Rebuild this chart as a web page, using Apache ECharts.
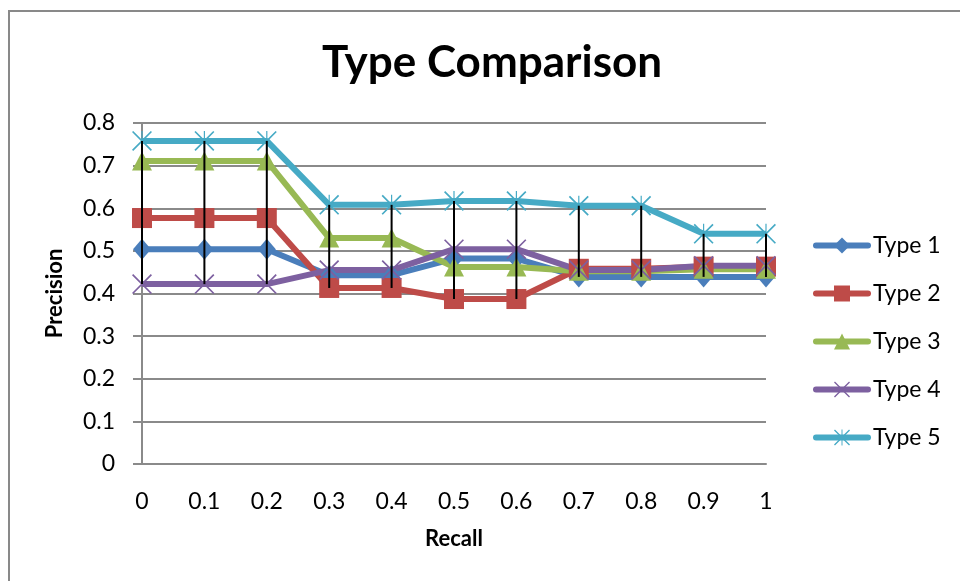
<!DOCTYPE html>
<html>
<head>
<meta charset="utf-8">
<title>Type Comparison</title>
<script src="https://cdn.jsdelivr.net/npm/echarts@6/dist/echarts.min.js"></script>
<style>
  html, body { margin: 0; padding: 0; background: #fff; }
  #chart { width: 960px; height: 581px; }
</style>
</head>
<body>
<div id="chart"></div>
<script>
// values
const recall = ['0', '0.1', '0.2', '0.3', '0.4', '0.5', '0.6', '0.7', '0.8', '0.9', '1'];
const type1 = [0.504, 0.504, 0.504, 0.443, 0.443, 0.482, 0.482, 0.439, 0.439, 0.439, 0.439];
const type2 = [0.577, 0.577, 0.577, 0.413, 0.413, 0.387, 0.387, 0.458, 0.458, 0.463, 0.463];
const type3 = [0.711, 0.711, 0.711, 0.530, 0.530, 0.462, 0.462, 0.452, 0.452, 0.457, 0.457];
const type4 = [0.422, 0.422, 0.422, 0.455, 0.455, 0.504, 0.504, 0.455, 0.455, 0.465, 0.465];
const type5 = [0.758, 0.758, 0.758, 0.608, 0.608, 0.617, 0.617, 0.606, 0.606, 0.540, 0.540];
const seriesNames = ['Type 1', 'Type 2', 'Type 3', 'Type 4', 'Type 5'];

const font = 'Lato';
const colors = ['#4A7EBB', '#BE4B48', '#98B954', '#7D60A0', '#46AAC5'];

// thin X and asterisk markers (filled paths)
const xPath = 'path://M0,1.2L1.2,0L20,18.8L18.8,20Z M18.8,0L20,1.2L1.2,20L0,18.8Z';
const starPath = xPath + ' M9.4,0L10.6,0L10.6,20L9.4,20Z';
const symbols = ['diamond', 'rect', 'triangle', xPath, starPath];
const symbolSizes = [[18, 21], 20, [20, 19], 20, 20];

const allTypes = [type1, type2, type3, type4, type5];
// high-low lines: min and max across the series at each recall step
const highLow = recall.map((_, i) => {
  const vals = allTypes.map(t => t[i]);
  return [i, Math.min(...vals), Math.max(...vals)];
});

const chart = echarts.init(document.getElementById('chart'));

const lineSeries = allTypes.map((data, k) => ({
  name: seriesNames[k],
  type: 'line',
  data: data,
  symbol: symbols[k],
  symbolSize: symbolSizes[k],
  showAllSymbol: true,
  lineStyle: { color: colors[k], width: 6 },
  itemStyle: { color: colors[k] },
  emphasis: { disabled: true },
  animation: false
}));

chart.setOption({
  backgroundColor: '#fff',
  animation: false,
  title: {
    text: 'Type Comparison',
    left: 487,
    top: 36,
    textAlign: 'center',
    textStyle: { fontFamily: font, fontSize: 44, fontWeight: 'bold', color: '#000' }
  },
  graphic: [{
    type: 'rect',
    shape: { x: 9, y: 11, width: 1000, height: 1000 },
    style: { fill: 'none', stroke: '#898989', lineWidth: 2 },
    silent: true
  }],
  legend: {
    orient: 'vertical',
    left: 808,
    top: 229,
    itemWidth: 52,
    itemHeight: 20,
    itemGap: 25,
    data: seriesNames,
    lineStyle: { width: 6, cap: 'round' },
    textStyle: { fontFamily: font, fontSize: 23, color: '#000', lineHeight: 22 }
  },
  grid: { left: 142, right: 194, top: 123, bottom: 117, containLabel: false },
  xAxis: {
    type: 'category',
    data: recall,
    boundaryGap: false,
    name: 'Recall',
    nameLocation: 'middle',
    nameGap: 64,
    nameTextStyle: { fontFamily: font, fontSize: 22, fontWeight: 'bold', color: '#000' },
    axisLine: { lineStyle: { color: '#8a8a8a', width: 2 } },
    axisTick: { show: false },
    axisLabel: { fontFamily: font, fontSize: 23, color: '#000', margin: 26 },
    splitLine: { show: false }
  },
  yAxis: {
    type: 'value',
    min: 0,
    max: 0.8,
    interval: 0.1,
    name: 'Precision',
    nameLocation: 'middle',
    nameGap: 76,
    nameTextStyle: { fontFamily: font, fontSize: 22, fontWeight: 'bold', color: '#000' },
    axisLine: { show: true, lineStyle: { color: '#8a8a8a', width: 2 } },
    axisTick: { show: true, length: 9, lineStyle: { color: '#8a8a8a', width: 2 } },
    axisLabel: {
      fontFamily: font, fontSize: 23, color: '#000', margin: 27,
      formatter: v => String(Math.round(v * 10) / 10)
    },
    splitLine: { lineStyle: { color: '#8a8a8a', width: 2 } }
  },
  series: lineSeries.concat([{
    name: 'High-Low',
    type: 'custom',
    data: highLow,
    z: 5,
    silent: true,
    animation: false,
    renderItem: function (params, api) {
      const lo = api.coord([api.value(0), api.value(1)]);
      const hi = api.coord([api.value(0), api.value(2)]);
      return {
        type: 'line',
        shape: { x1: lo[0], y1: lo[1], x2: hi[0], y2: hi[1] },
        style: { stroke: '#000', lineWidth: 2 }
      };
    }
  }])
});
</script>
</body>
</html>
